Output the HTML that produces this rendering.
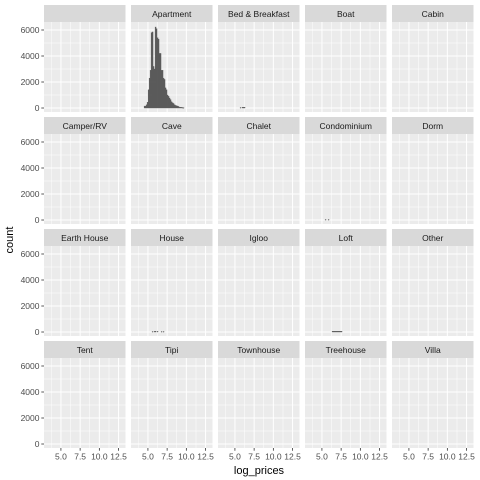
<!DOCTYPE html>
<html><head><meta charset="utf-8">
<style>
html,body{margin:0;padding:0;background:#fff;}
svg{display:block;font-family:"Liberation Sans",sans-serif;}
</style></head>
<body>
<svg id="chart" width="480" height="480" viewBox="0 0 480 480"></svg>
<script>
const categories = ["", "Apartment", "Bed & Breakfast", "Boat", "Cabin",
  "Camper/RV", "Cave", "Chalet", "Condominium", "Dorm",
  "Earth House", "House", "Igloo", "Loft", "Other",
  "Tent", "Tipi", "Townhouse", "Treehouse", "Villa"];
const binStart = 4.5;
const binWidth = 0.13;
const apartmentCounts = [150,150,250,450,1400,2300,2900,5800,5850,3200,3000,6230,6100,5400,5300,4200,4200,2900,2900,2300,2200,1550,1400,1000,900,770,650,480,400,350,250,200,180,150,120,60,60,50,40,30];
const bnbCounts = [0,0,0,0,0,0,0,0,0,40,0,60,60,60];
const condoCounts = [0,0,0,0,0,0,0,40,0,0,40];
const houseCounts = [0,0,0,0,0,0,0,0,40,0,50,60,0,50,0,0,0,40,0,40];
const loftCounts = [0,0,0,0,0,0,0,0,0,0,0,0,0,0,60,60,60,60,60,60,60,60,60,60];
const seriesByCategory = {"Apartment": apartmentCounts, "Bed & Breakfast": bnbCounts, "Condominium": condoCounts, "House": houseCounts, "Loft": loftCounts};
const xTicks = [5.0, 7.5, 10.0, 12.5];
const xTickLabels = ["5.0", "7.5", "10.0", "12.5"];
const xMinor = [3.75, 6.25, 8.75, 11.25];
const yTicks = [0, 2000, 4000, 6000];
const yTickLabels = ["0", "2000", "4000", "6000"];
const yMinor = [1000, 3000, 5000];

const NS = "http://www.w3.org/2000/svg";
const svg = document.getElementById("chart");
function mk(tag, attrs, parent) {
  const e = document.createElementNS(NS, tag);
  for (const k in attrs) e.setAttribute(k, attrs[k]);
  (parent || svg).appendChild(e);
  return e;
}
const colLeft = [44, 131, 218, 305, 392];
const rowTop = [5, 117, 229, 341];
const PW = 81.5, SH = 17, PH = 90;
const xMin = 2.8, xMax = 13.4;
const yMin = -307, yMax = 6615;
function xs(v, left) { return left + (v - xMin) / (xMax - xMin) * PW; }
function ys(v, top) { return top + PH - (v - yMin) / (yMax - yMin) * PH; }

categories.forEach((cat, idx) => {
  const c = idx % 5, r = Math.floor(idx / 5);
  const left = colLeft[c], stripTop = rowTop[r], top = stripTop + SH;
  const g = mk("g", {});
  
  
  const strip = mk("rect", {x: left, y: stripTop, width: PW, height: SH, fill: "#D9D9D9"}, g);
  
  
  if (cat) {
    const st = mk("text", {x: left + PW / 2, y: stripTop + 12, "text-anchor": "middle", "font-size": "8.5", fill: "#1A1A1A"}, g);
    st.textContent = cat;
    
    
  }
  const bg = mk("rect", {x: left, y: top, width: PW, height: PH, fill: "#EBEBEB"}, g);
  
  
  xMinor.forEach(v => { const l = mk("line", {x1: xs(v, left), x2: xs(v, left), y1: top, y2: top + PH, stroke: "#fff", "stroke-width": 0.5}, g);   });
  yMinor.forEach(v => { const l = mk("line", {x1: left, x2: left + PW, y1: ys(v, top), y2: ys(v, top), stroke: "#fff", "stroke-width": 0.5}, g);   });
  xTicks.forEach(v => { const l = mk("line", {x1: xs(v, left), x2: xs(v, left), y1: top, y2: top + PH, stroke: "#fff", "stroke-width": 1}, g);   });
  yTicks.forEach(v => { const l = mk("line", {x1: left, x2: left + PW, y1: ys(v, top), y2: ys(v, top), stroke: "#fff", "stroke-width": 1}, g);   });
  const counts = seriesByCategory[cat];
  if (counts) {
    counts.forEach((n, i) => {
      if (!n) return;
      const x0 = xs(binStart + i * binWidth, left), x1 = xs(binStart + (i + 1) * binWidth, left);
      const y0 = ys(n, top), yb = ys(0, top);
      const b = mk("rect", {x: x0, y: y0, width: x1 - x0, height: Math.max(0.6, yb - y0), fill: "#595959", stroke: "#595959", "stroke-width": 0.3}, g);
      
      
    });
  }
  if (c === 0) {
    yTicks.forEach((v, i) => {
      const y = ys(v, top);
      const t = mk("line", {x1: left - 2.7, x2: left, y1: y, y2: y, stroke: "#333", "stroke-width": 0.8}, g);
      
      
      const lb = mk("text", {x: left - 4.5, y: y + 3, "text-anchor": "end", "font-size": "8.5", fill: "#4D4D4D"}, g);
      lb.textContent = yTickLabels[i];
      
      
    });
  }
  if (r === 3) {
    xTicks.forEach((v, i) => {
      const x = xs(v, left);
      const t = mk("line", {x1: x, x2: x, y1: top + PH, y2: top + PH + 2.7, stroke: "#333", "stroke-width": 0.8}, g);
      
      
      const lb = mk("text", {x: x, y: top + PH + 11.5, "text-anchor": "middle", "font-size": "8.5", fill: "#4D4D4D"}, g);
      lb.textContent = xTickLabels[i];
      
      
    });
  }
});
const xt = mk("text", {x: 259, y: 474, "text-anchor": "middle", "font-size": "11", fill: "#000"});
xt.textContent = "log_prices";


const yt = mk("text", {x: 0, y: 0, transform: "translate(13,240) rotate(-90)", "text-anchor": "middle", "font-size": "11", fill: "#000"});
yt.textContent = "count";


</script>
</body></html>
